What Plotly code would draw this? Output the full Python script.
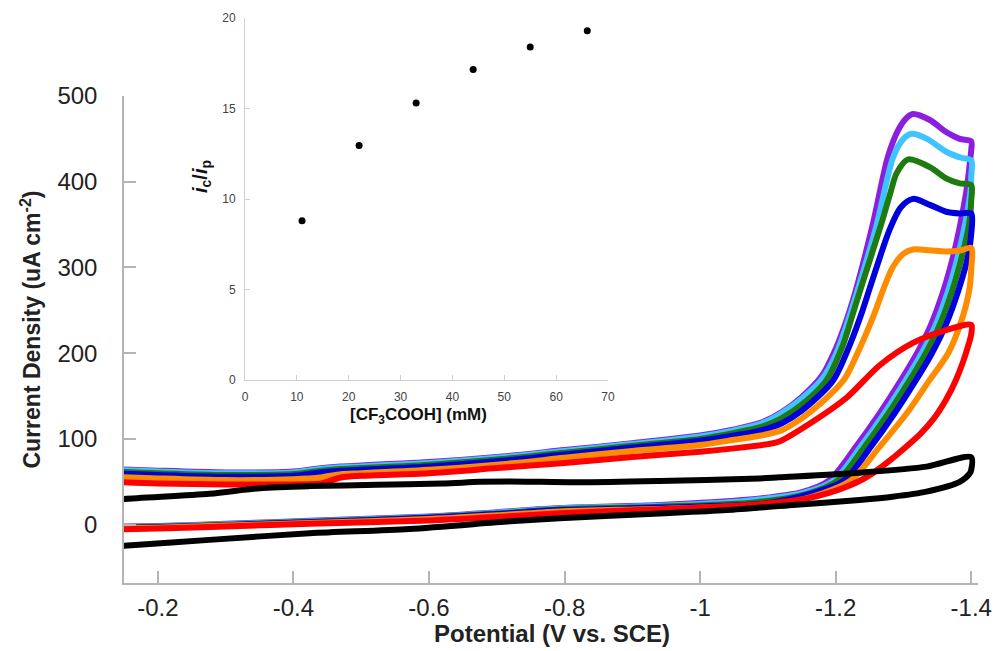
import plotly.graph_objects as go

# ---------------- inset data ----------------
acid_mM = [11, 22, 33, 44, 55, 66]
ic_over_ip = [8.8, 12.95, 15.3, 17.15, 18.4, 19.3]

# ---------------- CV data (potential V vs SCE, current density uA cm-2) ----------------
# forward (upper) branch then return (lower) branch for each curve
purple_fwd_v = [-0.13, -0.2, -0.3, -0.4, -0.44, -0.47, -0.5, -0.6, -0.7, -0.8, -0.9, -1.0, -1.05, -1.09, -1.12,
                -1.15, -1.18, -1.2, -1.21, -1.22, -1.23, -1.255, -1.277, -1.292, -1.304, -1.314, -1.339, -1.363, -1.383, -1.4]
purple_fwd_i = [65, 63, 61, 62, 66, 68, 69, 73, 79, 87, 95, 104, 111, 119, 131,
                149, 174, 205, 225, 248, 274, 351, 429, 460, 474, 479, 472, 458, 450, 447]
purple_rev_v = [-1.4, -1.399, -1.393, -1.384, -1.373, -1.359, -1.341, -1.32, -1.296, -1.265, -1.23, -1.191,
                -1.15, -1.068, -0.94, -0.793, -0.7, -0.6, -0.424, -0.3, -0.2, -0.13]
purple_rev_i = [437, 429, 390, 351, 312, 273, 234, 200, 168, 130, 91, 52,
                38, 29, 23, 19.5, 14.5, 9.5, 4.5, 1, -1.5, -2.5]

cyan_fwd_v = [-0.13, -0.2, -0.3, -0.4, -0.44, -0.47, -0.5, -0.6, -0.7, -0.8, -0.9, -1.0, -1.05, -1.09, -1.12,
              -1.15, -1.18, -1.2, -1.22, -1.235, -1.26, -1.285, -1.3, -1.312, -1.335, -1.363, -1.385, -1.4]
cyan_fwd_i = [64, 62, 60, 61, 65, 67, 68, 72, 78, 86, 94, 103, 110, 118, 130,
              147, 170, 198, 242, 280, 348, 429, 450, 456, 450, 435, 428, 425]
cyan_rev_v = [-1.4, -1.399, -1.391, -1.38, -1.366, -1.348, -1.327, -1.303, -1.272, -1.237, -1.198,
              -1.152, -1.07, -0.94, -0.793, -0.7, -0.6, -0.424, -0.3, -0.2, -0.13]
cyan_rev_i = [406, 390, 351, 312, 273, 234, 200, 168, 130, 91, 52,
              37, 28, 22, 19, 14, 9, 4, 0.5, -2, -3]

green_fwd_v = [-0.13, -0.2, -0.3, -0.4, -0.44, -0.47, -0.5, -0.6, -0.7, -0.8, -0.9, -1.0, -1.05, -1.09, -1.12,
               -1.15, -1.186, -1.21, -1.225, -1.24, -1.267, -1.28, -1.29, -1.307, -1.339, -1.363, -1.383, -1.4]
green_fwd_i = [62, 60, 58, 59, 63, 65, 66, 70, 76, 84, 92, 100, 107, 114, 124,
               140, 168, 208, 245, 283, 350, 385, 410, 426, 417, 404, 398, 396]
green_rev_v = [-1.4, -1.397, -1.386, -1.372, -1.354, -1.333, -1.309, -1.278, -1.243, -1.204,
               -1.158, -1.08, -0.94, -0.793, -0.7, -0.6, -0.424, -0.3, -0.2, -0.13]
green_rev_i = [378, 351, 312, 273, 234, 200, 168, 130, 91, 52,
               36, 26, 21, 18, 13, 8.5, 3.5, 0, -2.5, -3.5]

blue_fwd_v = [-0.13, -0.2, -0.3, -0.4, -0.44, -0.47, -0.5, -0.6, -0.7, -0.8, -0.9, -1.0, -1.05, -1.09, -1.12,
              -1.15, -1.196, -1.22, -1.238, -1.252, -1.28, -1.296, -1.314, -1.339, -1.363, -1.383, -1.4]
blue_fwd_i = [60, 58, 56, 57, 61, 63, 64, 68, 74, 82, 90, 98, 104, 110, 118,
              133, 168, 208, 246, 280, 345, 370, 380, 373, 365, 363, 363]
blue_rev_v = [-1.4, -1.395, -1.381, -1.363, -1.342, -1.318, -1.287, -1.252, -1.213, -1.166,
              -1.098, -0.94, -0.793, -0.7, -0.6, -0.424, -0.3, -0.2, -0.13]
blue_rev_i = [339, 312, 273, 234, 200, 168, 130, 91, 52, 36.7,
              25, 20, 17, 12.5, 8, 3, -0.5, -3, -4]

orange_fwd_v = [-0.13, -0.2, -0.3, -0.4, -0.44, -0.47, -0.5, -0.6, -0.7, -0.8, -0.9, -1.0, -1.05, -1.09, -1.12,
                -1.15, -1.18, -1.213, -1.235, -1.257, -1.27, -1.284, -1.3, -1.314, -1.339, -1.363, -1.385, -1.4]
orange_fwd_i = [56, 54, 52, 53, 55, 59, 60, 64, 70, 78, 86, 93, 99, 104, 110,
                124, 143, 170, 205, 246, 274, 300, 316, 321, 320, 318.5, 320, 323]
orange_rev_v = [-1.4, -1.397, -1.384, -1.366, -1.338, -1.305, -1.265, -1.223, -1.181, -1.122,
                -0.96, -0.793, -0.7, -0.6, -0.424, -0.3, -0.2, -0.13]
orange_rev_i = [298, 273, 234, 200, 168, 130, 91, 52, 36.7, 25,
                19, 15.5, 11, 6.5, 2, -1, -3.5, -4.5]

red_fwd_v = [-0.13, -0.2, -0.3, -0.4, -0.44, -0.47, -0.5, -0.6, -0.7, -0.8, -0.9, -1.0, -1.05, -1.1, -1.117,
             -1.166, -1.216, -1.265, -1.314, -1.363, -1.4]
red_fwd_i = [50, 48, 47, 47, 48, 55, 57, 60, 66, 72, 79, 85, 89, 94, 97,
             120, 148, 186, 212, 227, 233]
red_rev_v = [-1.4, -1.396, -1.388, -1.377, -1.363, -1.345, -1.325, -1.304, -1.28, -1.26, -1.24, -1.215,
             -1.19, -1.16, -1.12, -1.088, -0.94, -0.793, -0.7, -0.6, -0.424, -0.3, -0.2, -0.13]
red_rev_i = [222, 210, 190, 168, 146, 124, 106, 91, 75, 63, 53, 44,
             37, 31, 26.5, 24, 18, 13.4, 9, 5, 1, -2, -4.5, -5.5]

black_fwd_v = [-0.13, -0.15, -0.276, -0.35, -0.424, -0.523, -0.62, -0.675, -0.72, -0.822, -0.94, -1.088,
               -1.117, -1.235, -1.334, -1.4]
black_fwd_i = [28, 30, 36, 42.5, 45, 46.5, 48, 50, 50.5, 49.5, 51, 54,
               55.3, 60.7, 67.7, 78.6]
black_rev_v = [-1.4, -1.398, -1.383, -1.334, -1.284, -1.235, -1.137, -1.039, -0.94, -0.793, -0.72,
               -0.571, -0.424, -0.276, -0.15, -0.13]
black_rev_i = [64, 60, 50, 38.6, 32.7, 28.9, 23, 17, 13, 7.6, 4,
               -5, -10, -17.7, -24.7, -26]

x_tick_vals = [-0.2, -0.4, -0.6, -0.8, -1.0, -1.2, -1.4]
x_tick_text = ["-0.2", "-0.4", "-0.6", "-0.8", "-1", "-1.2", "-1.4"]
y_tick_vals = [0, 100, 200, 300, 400, 500]

series = [
    ("#8c1ee0", purple_fwd_v, purple_fwd_i, purple_rev_v, purple_rev_i),
    ("#40c4ff", cyan_fwd_v, cyan_fwd_i, cyan_rev_v, cyan_rev_i),
    ("#1f7a10", green_fwd_v, green_fwd_i, green_rev_v, green_rev_i),
    ("#0000dc", blue_fwd_v, blue_fwd_i, blue_rev_v, blue_rev_i),
    ("#ff8c00", orange_fwd_v, orange_fwd_i, orange_rev_v, orange_rev_i),
    ("#ff0000", red_fwd_v, red_fwd_i, red_rev_v, red_rev_i),
    ("#000000", black_fwd_v, black_fwd_i, black_rev_v, black_rev_i),
]

fig = go.Figure()
for color, fv, fi, rv, ri in series:
    fig.add_trace(go.Scatter(
        x=fv + rv, y=fi + ri, mode="lines",
        line=dict(color=color, width=6, shape="spline", smoothing=0.8),
        showlegend=False, xaxis="x", yaxis="y"))

fig.add_trace(go.Scatter(
    x=acid_mM, y=ic_over_ip, mode="markers",
    marker=dict(color="black", size=7), showlegend=False, xaxis="x2", yaxis="y2"))

FONT = "Arial, Liberation Sans, sans-serif"
AX = "#b4b4b4"

plot_top = 18
plot_bottom = 583
H = plot_bottom - plot_top
main_top_frac = (plot_bottom - 96) / H
L, R = 124, 978
W = R - L

fig.update_layout(
    width=995, height=651,
    margin=dict(l=L, r=995 - R, t=plot_top, b=651 - plot_bottom, pad=0, autoexpand=False),
    paper_bgcolor="white", plot_bgcolor="white",
    font=dict(family=FONT, color="#222"),
    xaxis=dict(range=[-0.15, -1.41], tickvals=x_tick_vals, ticktext=x_tick_text, automargin=False,
               showline=True, linecolor=AX, linewidth=1.5, ticks="inside", ticklen=12,
               tickcolor=AX, tickwidth=1.5, tickfont=dict(size=24, color="#222"),
               showgrid=False, zeroline=False, ticklabelstandoff=2, domain=[0, 1], anchor="y"),
    yaxis=dict(range=[-68, 500], tickvals=y_tick_vals, automargin=False,
               showline=True, linecolor=AX, linewidth=1.5, ticks="inside", ticklen=12,
               tickcolor=AX, tickwidth=1.5, tickfont=dict(size=24, color="#222"),
               showgrid=False, zeroline=False, ticklabelstandoff=20,
               domain=[0, main_top_frac], anchor="x"),
    xaxis2=dict(range=[0, 70], dtick=10, showline=True, linecolor="#d0d0d0", linewidth=1, automargin=False,
                ticks="inside", ticklen=5, tickcolor="#d0d0d0", tickfont=dict(size=12, color="#444"),
                showgrid=False, zeroline=False, ticklabelstandoff=6,
                domain=[(245 - L) / W, (608 - L) / W], anchor="y2"),
    yaxis2=dict(range=[0, 20], dtick=5, showline=True, linecolor="#d0d0d0", linewidth=1, automargin=False,
                ticks="inside", ticklen=5, tickcolor="#d0d0d0", tickfont=dict(size=12, color="#444"),
                showgrid=False, zeroline=False, ticklabelstandoff=6,
                domain=[(plot_bottom - 380) / H, 1.0], anchor="x2"),
)

def px(xp):
    return (xp - L) / W

def py(yp):
    return (plot_bottom - yp) / H

annotations = [
    dict(text="<b>Potential (V vs. SCE)</b>", x=px(552), y=py(633), xref="paper", yref="paper",
         showarrow=False, font=dict(size=24, color="#222", family=FONT), xanchor="center", yanchor="middle"),
    dict(text="<b>Current Density (uA cm<sup>-2</sup>)</b>", x=px(30), y=py(329.5), xref="paper", yref="paper",
         showarrow=False, textangle=-90, font=dict(size=23, color="#222", family=FONT),
         xanchor="center", yanchor="middle"),
    dict(text="<b>[CF<sub>3</sub>COOH] (mM)</b>", x=px(418), y=py(416), xref="paper", yref="paper",
         showarrow=False, font=dict(size=17, color="#111", family=FONT), xanchor="center", yanchor="middle"),
    dict(text="<b><i>i</i><sub>c</sub>/<i>i</i><sub>p</sub></b>", x=px(201), y=py(177), xref="paper", yref="paper",
         showarrow=False, textangle=-90, font=dict(size=20, color="#111", family=FONT),
         xanchor="center", yanchor="middle"),
]
fig.update_layout(annotations=annotations)

fig.write_html("out.html")
